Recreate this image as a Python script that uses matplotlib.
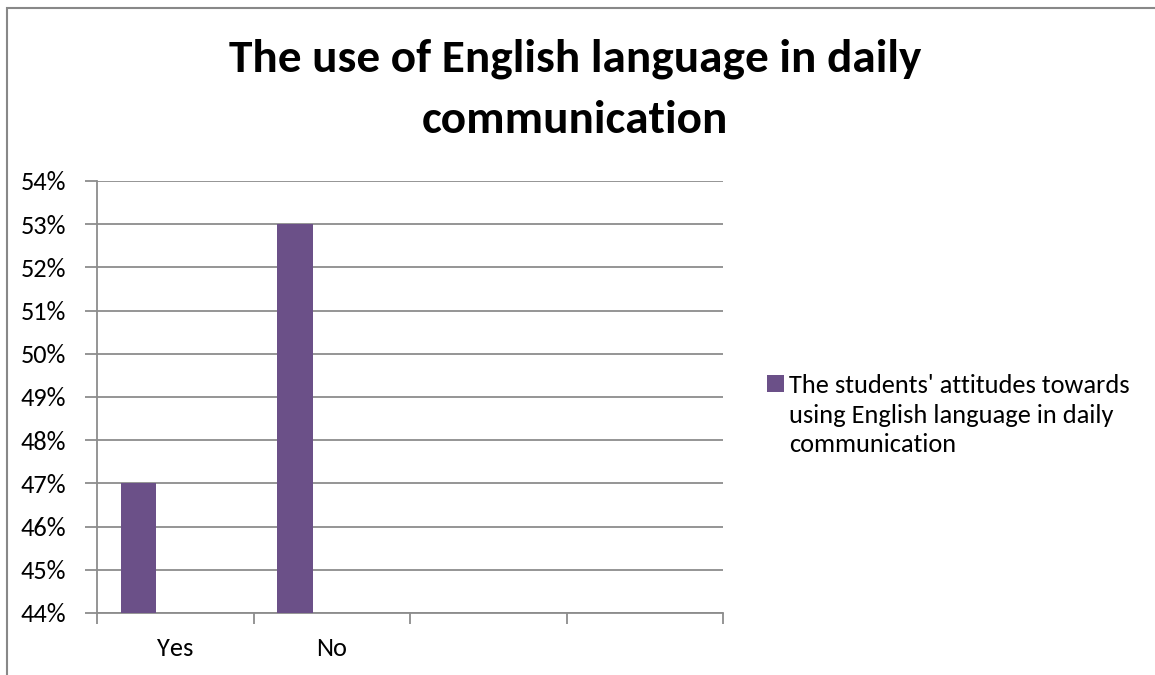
import matplotlib.pyplot as plt
import matplotlib.patches as mpatches
from matplotlib.ticker import FuncFormatter, MultipleLocator

# Survey result (percent of students)
categories = ["Yes", "No", "", ""]
values = [47, 53]
series_name = "The students' attitudes towards\nusing English language in daily\ncommunication"
title_text = "The use of English language in daily\ncommunication"

BAR_COLOR = '#6B5088'
GRID_COLOR = '#8C8C8C'
W, H = 1155, 675

plt.rcParams['font.family'] = ['Carlito', 'Lato', 'DejaVu Sans']

fig = plt.figure(figsize=(W / 100, H / 100), dpi=100)
ax = fig.add_axes([97 / W, 1 - 613 / H, 626 / W, 432 / H])

# bars sit at the left part of each category slot
x = [i + 0.153 for i in range(len(values))]
ax.bar(x, [v - 44 for v in values], bottom=44, width=0.224, align='edge',
       color=BAR_COLOR, zorder=3, label=series_name)

ax.set_xlim(0, len(categories))
ax.set_ylim(44, 54)
ax.yaxis.set_major_locator(MultipleLocator(1))
ax.yaxis.set_major_formatter(FuncFormatter(lambda v, _: f"{v:.0f}%"))
ax.grid(axis='y', color=GRID_COLOR, linewidth=1.3, zorder=0)

ax.set_xticks(range(len(categories) + 1))
ax.set_xticklabels([])
ax.set_xticks([i + 0.5 for i in range(len(categories))], minor=True)
ax.set_xticklabels(categories, minor=True)
ax.tick_params(axis='x', which='major', length=8, width=1.3, color=GRID_COLOR)
ax.tick_params(axis='x', which='minor', length=0, pad=17, labelsize=19)
ax.tick_params(axis='y', length=9, width=1.3, color=GRID_COLOR, pad=13, labelsize=19)

for side in ('top', 'right'):
    ax.spines[side].set_visible(False)
for side in ('left', 'bottom'):
    ax.spines[side].set_color(GRID_COLOR)
    ax.spines[side].set_linewidth(1.3)

# baseline alignment refers to the last line of a multi-line text
fig.text(575 / W, 1 - 133 / H, title_text, ha='center', va='baseline',
         fontsize=34, fontweight='bold', linespacing=1.64,
         multialignment='center')

# legend: swatch next to the first line of the series name
fig.patches.append(mpatches.Rectangle((767 / W, 1 - 392 / H), 17 / W, 17 / H,
                                      transform=fig.transFigure,
                                      facecolor=BAR_COLOR, edgecolor='none'))
fig.text(789 / W, 1 - 452 / H, series_name, ha='left', va='baseline',
         fontsize=19, linespacing=1.34)

# chart frame
frame = mpatches.Rectangle((7 / W, -0.1), 1.2, 1.1 - 8.5 / H,
                           transform=fig.transFigure, fill=False,
                           edgecolor='#888888', linewidth=1.5)
fig.patches.append(frame)

fig.savefig('out.png', dpi=100, facecolor='white')
